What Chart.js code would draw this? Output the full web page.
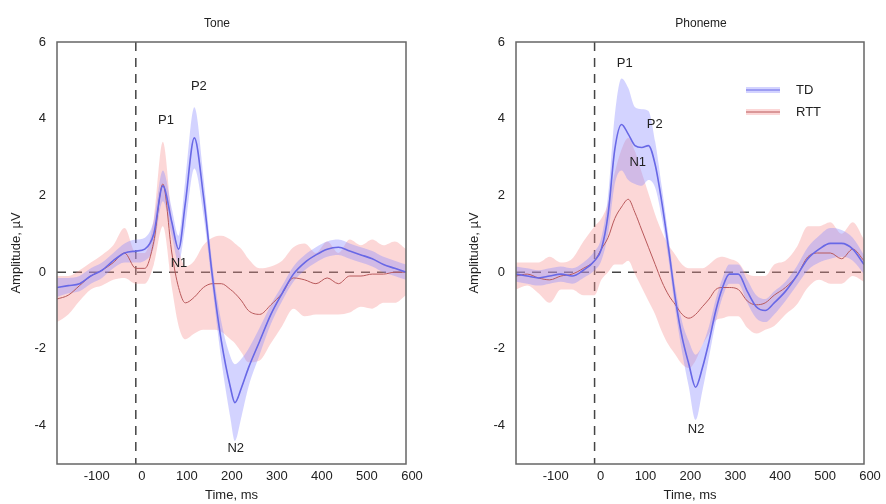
<!DOCTYPE html>
<html>
<head>
<meta charset="utf-8">
<script src="https://cdn.jsdelivr.net/npm/chart.js@4.4.1/dist/chart.umd.min.js"></script>
<style>
  html, body { margin: 0; padding: 0; background: #fff; }
  #wrap { position: relative; width: 886px; height: 504px; }
  canvas { position: absolute; top: 0; }
  #tone { left: 0; }
  #phon { left: 443px; }
</style>
</head>
<body>
<div id="wrap">
  <canvas id="tone" width="443" height="504"></canvas>
  <canvas id="phon" width="443" height="504"></canvas>
</div>
<script>
// ── Data ───────────────────────────────────────────
const xTicks = [-100, 0, 100, 200, 300, 400, 500, 600];
const yTicks = [-4, -2, 0, 2, 4, 6];
const seriesNames = ['TD', 'RTT'];

// Tone panel
const toneTime   = [-175,-150,-125,-100,-75,-50,-25,0,20,40,60,80,95,110,130,150,170,190,210,220,235,250,275,300,325,350,375,400,425,450,475,500,525,550,575,600];
const toneTD     = [-0.4,-0.35,-0.3,-0.1,0.05,0.3,0.5,0.55,0.6,1.0,2.25,1.3,0.6,1.8,3.5,2.0,-0.1,-1.8,-3.0,-3.4,-3.0,-2.5,-1.8,-1.1,-0.55,-0.05,0.25,0.45,0.6,0.65,0.55,0.45,0.35,0.2,0.1,0.0];
const toneTDErr  = [0.25,0.2,0.2,0.2,0.2,0.2,0.25,0.3,0.3,0.35,0.4,0.35,0.35,0.6,0.8,0.5,0.3,0.5,0.8,1.0,0.75,0.5,0.35,0.25,0.2,0.2,0.2,0.2,0.2,0.2,0.2,0.2,0.2,0.2,0.2,0.2];
const toneRTT    = [-0.7,-0.6,-0.35,-0.1,0.05,0.25,0.5,0.1,0.1,0.8,2.3,0.5,-0.4,-0.8,-0.65,-0.4,-0.3,-0.3,-0.45,-0.55,-0.75,-1.0,-1.1,-0.85,-0.55,-0.15,-0.2,-0.3,-0.15,-0.3,-0.1,-0.1,-0.05,-0.05,0.0,0.0];
const toneRTTErr = [0.6,0.5,0.4,0.35,0.4,0.45,0.65,0.4,0.4,0.6,1.1,0.9,1.0,0.95,0.95,1.1,1.2,1.25,1.3,1.3,1.35,1.35,1.2,1.0,0.85,0.8,0.95,0.8,0.95,0.8,0.95,0.8,0.9,0.75,0.8,0.6];
const tonePeaks  = [
  { label: 'P1', t: 67,  v: 3.95 },
  { label: 'P2', t: 140, v: 4.85 },
  { label: 'N1', t: 96,  v: 0.24 },
  { label: 'N2', t: 222, v: -4.6 }
];

// Phoneme panel
const phonTime   = [-175,-150,-125,-100,-75,-50,-25,0,15,30,45,60,75,90,105,120,135,150,165,180,195,210,225,240,255,270,285,300,320,340,360,380,400,425,450,475,500,525,550,575,600];
const phonTD     = [-0.05,-0.1,-0.15,-0.1,-0.05,-0.1,0.05,0.3,0.6,1.5,3.2,3.85,3.6,3.3,3.25,3.3,2.8,1.8,0.6,-0.7,-1.7,-2.4,-3.0,-2.5,-1.8,-1.0,-0.4,-0.05,-0.05,-0.5,-0.9,-1.0,-0.8,-0.5,-0.1,0.35,0.6,0.75,0.75,0.6,0.2];
const phonTDErr  = [0.2,0.2,0.2,0.2,0.2,0.2,0.2,0.25,0.3,0.5,0.9,1.2,1.2,1.0,1.0,0.9,0.6,0.4,0.3,0.3,0.4,0.6,0.85,0.6,0.4,0.3,0.25,0.25,0.25,0.3,0.3,0.3,0.3,0.25,0.25,0.3,0.35,0.4,0.35,0.3,0.25];
const phonRTT    = [-0.1,-0.05,-0.15,-0.2,-0.1,-0.05,0.1,0.3,0.6,0.9,1.4,1.7,1.9,1.55,1.1,0.65,0.2,-0.25,-0.6,-0.85,-1.1,-1.2,-1.1,-0.9,-0.7,-0.45,-0.4,-0.4,-0.45,-0.75,-0.85,-0.8,-0.6,-0.4,-0.1,0.4,0.5,0.5,0.35,0.6,0.3];
const phonRTTErr = [0.35,0.3,0.4,0.6,0.35,0.4,0.7,0.9,0.8,0.9,1.2,1.5,1.6,1.6,1.5,1.4,1.3,1.3,1.3,1.3,1.3,1.3,1.2,1.0,0.9,0.8,0.8,0.75,0.7,0.7,0.75,0.7,0.8,0.7,0.75,0.8,0.7,0.8,0.65,0.7,0.55];
const phonPeaks  = [
  { label: 'P1', t: 67,  v: 5.45 },
  { label: 'P2', t: 134, v: 3.86 },
  { label: 'N1', t: 96,  v: 2.86 },
  { label: 'N2', t: 226, v: -4.1 }
];

// ── Style ──────────────────────────────────────────
const FONT = 'Liberation Sans, Arial, sans-serif';
const colors = {
  td: '#6868e6', tdBand: 'rgba(140,140,255,0.38)',
  rtt: '#b8585a', rttBand: 'rgba(248,150,150,0.38)',
  axis: '#555', text: '#222'
};

const pts = (time, vals) => time.map((t, i) => ({ x: t, y: vals[i] }));
const shift = (vals, err, s) => vals.map((v, i) => v + s * err[i]);

// frame, zero lines, peak labels, panel title, legend
const decorPlugin = {
  id: 'decor',
  beforeDatasetsDraw(chart) {
    const { ctx, chartArea: a, scales: { x, y } } = chart;
    ctx.save();
    ctx.strokeStyle = '#444';
    ctx.lineWidth = 1.5;
    ctx.setLineDash([9, 7]);
    const x0 = x.getPixelForValue(0), y0 = y.getPixelForValue(0);
    ctx.beginPath(); ctx.moveTo(x0, a.top); ctx.lineTo(x0, a.bottom); ctx.stroke();
    ctx.beginPath(); ctx.moveTo(a.left, y0); ctx.lineTo(a.right, y0); ctx.stroke();
    ctx.restore();
  },
  afterDraw(chart, args, opts) {
    const { ctx, chartArea: a, scales: { x, y } } = chart;
    ctx.save();
    ctx.strokeStyle = '#666';
    ctx.lineWidth = 1.5;
    ctx.strokeRect(a.left, a.top, a.right - a.left, a.bottom - a.top);

    ctx.fillStyle = colors.text;
    ctx.font = '13px ' + FONT;
    ctx.textAlign = 'center';
    ctx.textBaseline = 'middle';
    opts.peaks.forEach(p => ctx.fillText(p.label, x.getPixelForValue(p.t), y.getPixelForValue(p.v)));

    ctx.font = '12px ' + FONT;
    ctx.fillText(opts.title, opts.titleX, 24);

    if (opts.legend) {
      const items = [
        { name: seriesNames[0], line: colors.td, band: colors.tdBand },
        { name: seriesNames[1], line: colors.rtt, band: colors.rttBand }
      ];
      ctx.textAlign = 'left';
      ctx.font = '13px ' + FONT;
      items.forEach((it, i) => {
        const ly = 90 + i * 22;
        ctx.lineWidth = 6; ctx.strokeStyle = it.band;
        ctx.beginPath(); ctx.moveTo(303, ly); ctx.lineTo(337, ly); ctx.stroke();
        ctx.lineWidth = 1; ctx.strokeStyle = it.line;
        ctx.beginPath(); ctx.moveTo(303, ly); ctx.lineTo(337, ly); ctx.stroke();
        ctx.fillStyle = colors.text;
        ctx.fillText(it.name, 353, ly);
      });
    }
    ctx.restore();
  }
};

function makeChart(id, d) {
  const band = (vals, err, s, col, fill, order) => ({
    data: pts(d.time, shift(vals, err, s)),
    borderWidth: 0, pointRadius: 0, backgroundColor: col,
    fill: fill, order: order, cubicInterpolationMode: 'monotone'
  });
  new Chart(document.getElementById(id), {
    type: 'line',
    data: {
      datasets: [
        band(d.rtt, d.rttErr, 1, colors.rttBand, '+1', 5),
        band(d.rtt, d.rttErr, -1, colors.rttBand, false, 5),
        band(d.td, d.tdErr, 1, colors.tdBand, '+1', 4),
        band(d.td, d.tdErr, -1, colors.tdBand, false, 4),
        { data: pts(d.time, d.rtt), borderColor: colors.rtt, borderWidth: 1,
          pointRadius: 0, fill: false, order: 1, cubicInterpolationMode: 'monotone' },
        { data: pts(d.time, d.td), borderColor: colors.td, borderWidth: 1.6,
          pointRadius: 0, fill: false, order: 0, cubicInterpolationMode: 'monotone' }
      ]
    },
    plugins: [decorPlugin],
    options: {
      responsive: false, animation: false, devicePixelRatio: 1,
      layout: { padding: { left: 0, right: d.padRight, top: 42, bottom: 0 } },
      plugins: {
        legend: { display: false }, tooltip: { enabled: false },
        decor: { peaks: d.peaks, title: d.title, titleX: d.titleX, legend: d.legend }
      },
      scales: {
        x: {
          type: 'linear', min: -175, max: 600,
          afterBuildTicks: s => { s.ticks = xTicks.map(v => ({ value: v })); },
          afterFit: s => { s.height = 40; },
          grid: { display: false, drawTicks: false },
          border: { display: false },
          ticks: { color: colors.text, font: { size: 13, family: FONT }, padding: 5,
                   maxRotation: 0, labelOffset: 6 },
          title: { display: true, text: 'Time, ms', color: colors.text,
                   font: { size: 13, family: FONT }, padding: { top: 0, bottom: 1 } }
        },
        y: {
          min: -5, max: 6,
          afterBuildTicks: s => { s.ticks = yTicks.map(v => ({ value: v })); },
          afterFit: s => { s.width = d.yWidth; },
          grid: { display: false, drawTicks: false },
          border: { display: false },
          ticks: { color: colors.text, font: { size: 13, family: FONT }, padding: 11 },
          title: { display: true, text: 'Amplitude, µV', color: colors.text,
                   font: { size: 13, family: FONT }, padding: { top: d.yTitlePad, bottom: 0 } }
        }
      }
    }
  });
}

makeChart('tone', {
  time: toneTime, td: toneTD, tdErr: toneTDErr, rtt: toneRTT, rttErr: toneRTTErr,
  peaks: tonePeaks, title: 'Tone', titleX: 217, legend: false,
  yWidth: 57, padRight: 37, yTitlePad: 9
});
makeChart('phon', {
  time: phonTime, td: phonTD, tdErr: phonTDErr, rtt: phonRTT, rttErr: phonRTTErr,
  peaks: phonPeaks, title: 'Phoneme', titleX: 258, legend: true,
  yWidth: 73, padRight: 22, yTitlePad: 24
});
</script>
</body>
</html>
